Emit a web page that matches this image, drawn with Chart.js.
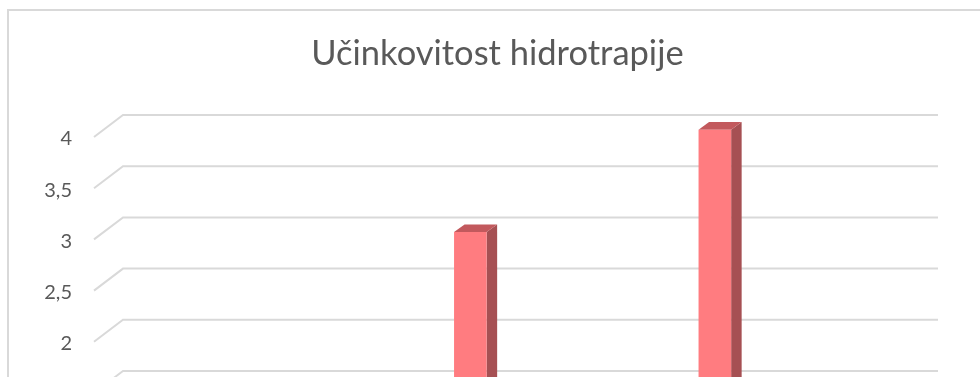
<!DOCTYPE html>
<html>
<head>
<meta charset="utf-8">
<script src="https://cdn.jsdelivr.net/npm/chart.js@4/dist/chart.umd.min.js"></script>
<style>
    html, body { margin: 0; padding: 0; background: #fff; overflow: hidden; }
    #wrap { width: 980px; height: 620px; position: relative; }
</style>
</head>
<body>
<div id="wrap"><canvas id="barChart"></canvas></div>
<script>
const title = 'Učinkovitost hidrotrapije';
const categories = ['1', '2', '3', '4', '5', '6', '7', '8', '9', '10'];
const values = [1, 1, 1, 1, 3, 1, 1, 4, 1, 1];
const yTicks = [0, 0.5, 1, 1.5, 2, 2.5, 3, 3.5, 4];

// back wall offset and bar depth
const WALL_DX = 29, WALL_DY = -22;
const BAR_FX = 9.6, BAR_FY = -7.3;
const BAR_DX = 10.5, BAR_DY = -7.7;
const GRID = '#d9d9d9';
const TEXT = '#595959';

const box3d = {
    id: 'box3d',
    beforeDraw(chart) {
        const {ctx} = chart;
        ctx.save();
        ctx.strokeStyle = GRID;
        ctx.lineWidth = 2;
        ctx.strokeRect(8, 10, 1200, 1200);
        ctx.restore();
    },
    beforeDatasetsDraw(chart) {
        const {ctx, chartArea: a, scales: {y}} = chart;
        ctx.save();
        ctx.strokeStyle = GRID;
        ctx.lineWidth = 2;
        yTicks.forEach(v => {
            const py = y.getPixelForValue(v);
            ctx.beginPath();
            ctx.moveTo(a.left, py);
            ctx.lineTo(a.left + WALL_DX, py + WALL_DY);
            ctx.lineTo(a.right + WALL_DX, py + WALL_DY);
            ctx.stroke();
        });
        ctx.restore();
    },
    beforeDatasetDraw(chart, args) {
        const {ctx} = chart;
        const meta = args.meta;
        ctx.save();
        meta.data.forEach(bar => {
            const {x, y, base, width} = bar.getProps(['x', 'y', 'base', 'width'], true);
            const xl = x - width / 2 + BAR_FX, xr = x + width / 2 + BAR_FX;
            const yt = y + BAR_FY, yb = base + BAR_FY;
            // side face
            ctx.fillStyle = '#a65053';
            ctx.beginPath();
            ctx.moveTo(xr, yt);
            ctx.lineTo(xr + BAR_DX, yt + BAR_DY);
            ctx.lineTo(xr + BAR_DX, yb + BAR_DY);
            ctx.lineTo(xr, yb);
            ctx.closePath();
            ctx.fill();
            // top face
            ctx.fillStyle = '#c2595d';
            ctx.beginPath();
            ctx.moveTo(xl, yt);
            ctx.lineTo(xr, yt);
            ctx.lineTo(xr + BAR_DX, yt + BAR_DY);
            ctx.lineTo(xl + BAR_DX, yt + BAR_DY);
            ctx.closePath();
            ctx.fill();
        });
        // front faces are drawn by the controller, moved into the bar's depth
        ctx.translate(BAR_FX, BAR_FY);
    },
    afterDatasetDraw(chart) {
        chart.ctx.restore();
    },
    afterDraw(chart) {
        const {ctx} = chart;
        ctx.save();
        ctx.fillStyle = TEXT;
        ctx.font = '34.5px Lato';
        ctx.textAlign = 'center';
        ctx.textBaseline = 'alphabetic';
        ctx.fillText(title, 497.5, 65);
        ctx.restore();
    }
};

new Chart(document.getElementById('barChart'), {
    type: 'bar',
    data: {
        labels: categories,
        datasets: [{
            data: values,
            backgroundColor: '#ff7c80',
            borderWidth: 0,
            categoryPercentage: 1,
            barPercentage: 0.4,
            clip: false
        }]
    },
    options: {
        responsive: true,
        maintainAspectRatio: false,
        animation: false,
        layout: {padding: {left: 8, right: 71, top: 137, bottom: 73.4}},
        plugins: {legend: {display: false}, title: {display: false}, tooltip: {enabled: false}},
        scales: {
            x: {display: false},
            y: {
                min: 0,
                max: 4,
                afterFit: s => { s.width = 86; },
                afterBuildTicks: s => { s.ticks = yTicks.map(v => ({value: v})); },
                border: {display: false},
                grid: {display: false, drawTicks: false},
                ticks: {
                    padding: 22,
                    labelOffset: 2,
                    color: TEXT,
                    font: {family: 'Lato', size: 20},
                    callback: v => String(v).replace('.', ',')
                }
            }
        }
    },
    plugins: [box3d]
});
</script>
</body>
</html>
